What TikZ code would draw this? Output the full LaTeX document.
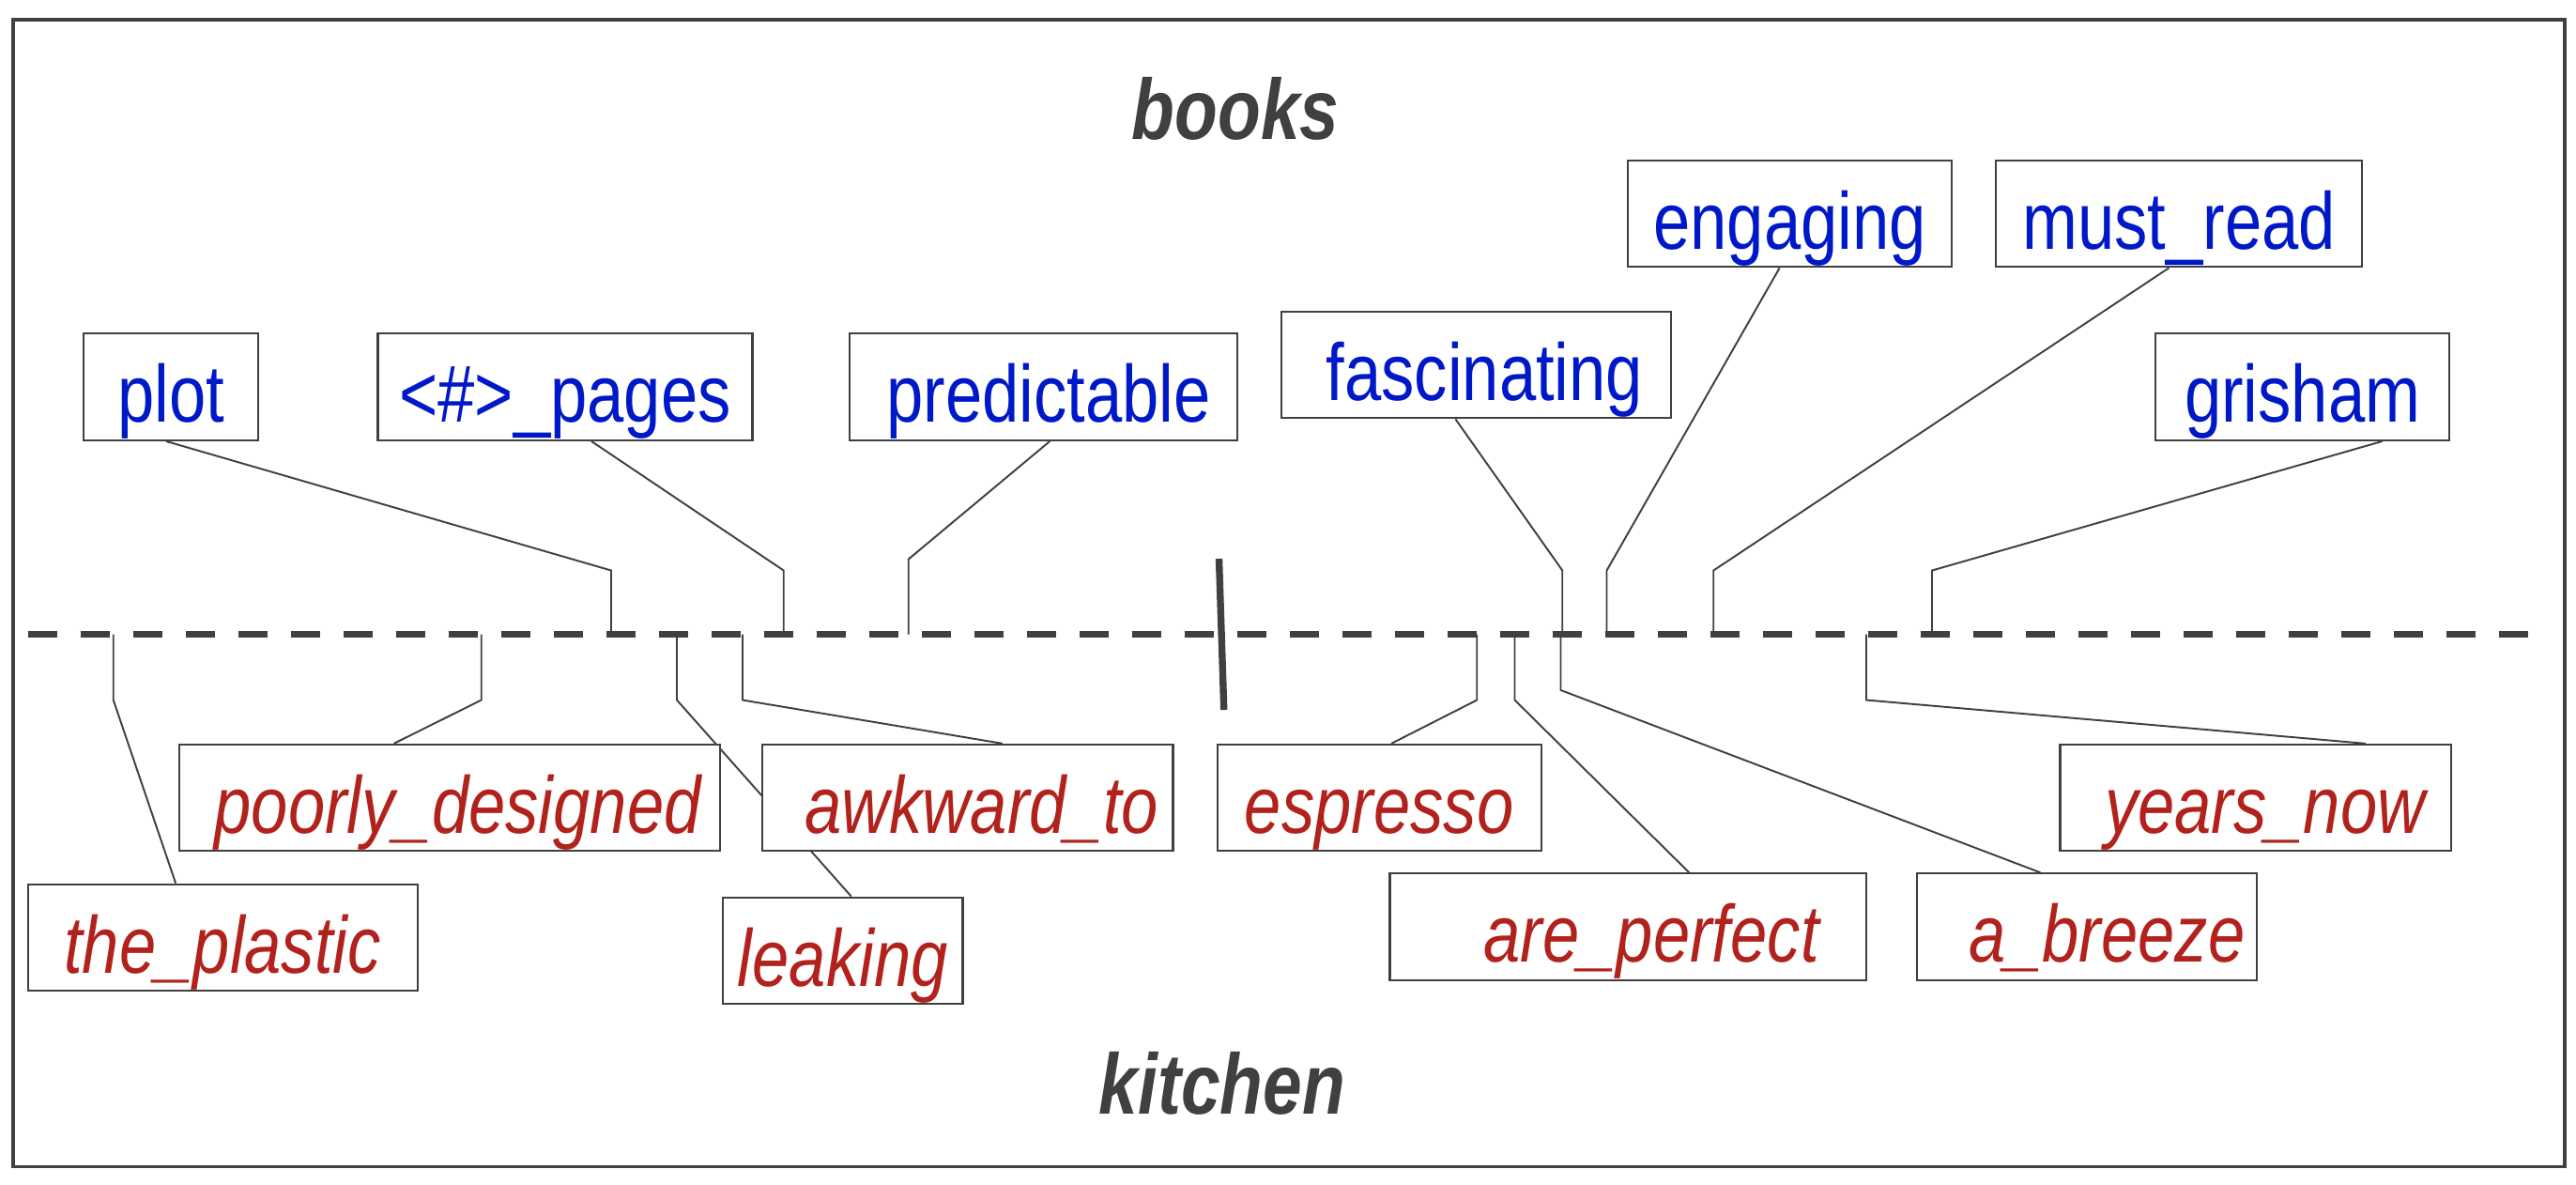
\documentclass[tikz,border=0pt]{standalone}
\usepackage{fontspec}
\setmainfont{Liberation Sans}
\newfontfamily\wordfont[FakeStretch=0.82]{Liberation Sans}
\usetikzlibrary{backgrounds}
\definecolor{bookblue}{RGB}{0,25,200}
\definecolor{kitchred}{RGB}{178,34,28}
\definecolor{axisgray}{RGB}{64,64,64}

\begin{document}
\begin{tikzpicture}[x=0.0175cm, y=-0.0175cm,
    word/.style={draw=axisgray, line width=0.6pt, fill=white, inner xsep=0pt, inner ysep=0pt, text height=0.945cm, text depth=0.19cm},
    book/.style={word, text=bookblue, font=\wordfont\fontsize{24.5}{26}\selectfont},
    kitch/.style={word, text=kitchred, font=\wordfont\fontsize{24.5}{26}\selectfont\itshape},
    areatitle/.style={text=axisgray, anchor=base, font=\wordfont\fontsize{26}{28}\selectfont\bfseries\itshape},
    link/.style={axisgray, line width=0.55pt}
]
\useasboundingbox (0,0) rectangle (1568,721);
\draw[axisgray, line width=1.1pt] (8,12) rectangle (1561,710);

\node[areatitle] (books) at (752,85) {books};
\node[areatitle] (kitchen) at (744,678) {kitchen};

\draw[axisgray, line width=2.1pt, dash pattern=on 0.315cm off 0.245cm] (17,386) -- (1545,386);
\draw[axisgray, line width=2.1pt] (742,340) -- (745,432);

\node[book, minimum width=1.855cm] (plot) at (104,235.5) {plot};
\node[book, minimum width=3.99cm] (pages) at (344,235.5) {<\#>\_pages};
\node[book, minimum width=4.13cm] (predictable) at (635,235.5) {\hspace*{.12cm}predictable};
\node[book, minimum width=4.15cm] (fascinating) at (898.5,222) {\hspace*{.18cm}fascinating};
\node[book, minimum width=3.45cm] (engaging) at (1089.5,130) {engaging};
\node[book, minimum width=3.9cm] (mustread) at (1326.5,130) {must\_read};
\node[book, minimum width=3.13cm] (grisham) at (1401.5,235.5) {grisham};

\node[kitch, minimum width=5.76cm] (poorly) at (273.5,485.5) {\hspace*{.18cm}poorly\_designed};
\node[kitch, minimum width=4.375cm] (awkward) at (589,485.5) {\hspace*{.3cm}awkward\_to};
\node[kitch, minimum width=3.45cm] (espresso) at (839.5,485.5) {espresso};
\node[kitch, minimum width=4.165cm] (yearsnow) at (1373,485.5) {\hspace*{.2cm}years\_now};
\node[kitch, minimum width=4.15cm] (plastic) at (135.5,570.5) {the\_plastic};
\node[kitch, minimum width=2.555cm] (leaking) at (513,578.5) {leaking};
\node[kitch, minimum width=5.075cm] (perfect) at (991,564) {\hspace*{.5cm}are\_perfect};
\node[kitch, minimum width=3.62cm] (breeze) at (1270.5,564) {\hspace*{.42cm}a\_breeze};

\coordinate (plot-ax) at (372,386);
\coordinate (pages-ax) at (477,386);
\coordinate (predictable-ax) at (553,386);
\coordinate (fascinating-ax) at (951,386);
\coordinate (engaging-ax) at (978,386);
\coordinate (mustread-ax) at (1043,386);
\coordinate (grisham-ax) at (1176,386);
\coordinate (plastic-ax) at (69,386);
\coordinate (poorly-ax) at (293,386);
\coordinate (leaking-ax) at (412,386);
\coordinate (awkward-ax) at (452,386);
\coordinate (espresso-ax) at (899,386);
\coordinate (perfect-ax) at (922,386);
\coordinate (breeze-ax) at (950,384);
\coordinate (yearsnow-ax) at (1136,386);

\begin{scope}[on background layer]
\draw[link] ([xshift=-.05cm]plot.south) -- ([yshift=.68cm]plot-ax) -- (plot-ax);
\draw[link] ([xshift=.28cm]pages.south) -- ([yshift=.68cm]pages-ax) -- (pages-ax);
\draw[link] ([xshift=.07cm]predictable.south) -- ([yshift=.8cm]predictable-ax) -- (predictable-ax);
\draw[link] ([xshift=-.22cm]fascinating.south) -- ([yshift=.68cm]fascinating-ax) -- (fascinating-ax);
\draw[link] ([xshift=-.11cm]engaging.south) -- ([yshift=.68cm]engaging-ax) -- (engaging-ax);
\draw[link] ([xshift=-.11cm]mustread.south) -- ([yshift=.68cm]mustread-ax) -- (mustread-ax);
\draw[link] ([xshift=.85cm]grisham.south) -- ([yshift=.68cm]grisham-ax) -- (grisham-ax);
\draw[link] (plastic-ax) -- ([yshift=-.7cm]plastic-ax) -- ([xshift=-.5cm]plastic.north);
\draw[link] (poorly-ax) -- ([yshift=-.7cm]poorly-ax) -- ([xshift=-.59cm]poorly.north);
\draw[link] (leaking-ax) -- ([yshift=-.7cm]leaking-ax) -- ([xshift=.09cm]leaking.north);
\draw[link] (awkward-ax) -- ([yshift=-.7cm]awkward-ax) -- ([xshift=.37cm]awkward.north);
\draw[link] (espresso-ax) -- ([yshift=-.7cm]espresso-ax) -- ([xshift=.13cm]espresso.north);
\draw[link] (perfect-ax) -- ([yshift=-.7cm]perfect-ax) -- ([xshift=.65cm]perfect.north);
\draw[link] (breeze-ax) -- ([yshift=-.63cm]breeze-ax) -- ([xshift=-.5cm]breeze.north);
\draw[link] (yearsnow-ax) -- ([yshift=-.7cm]yearsnow-ax) -- ([xshift=1.17cm]yearsnow.north);
\end{scope}
\end{tikzpicture}
\end{document}
